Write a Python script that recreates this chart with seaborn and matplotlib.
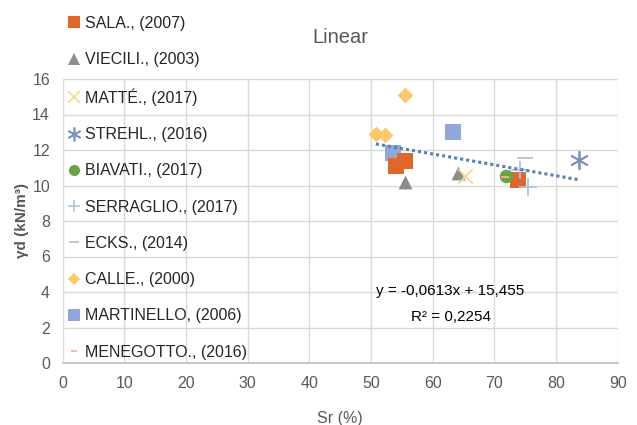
import numpy as np
import pandas as pd
import matplotlib
matplotlib.use("Agg")
import matplotlib.pyplot as plt
import seaborn as sns
from matplotlib.lines import Line2D
from matplotlib import font_manager

sns.set_theme(style="white")
names = {f.name for f in font_manager.fontManager.ttflist}
NARROW = "Liberation Sans Narrow" if "Liberation Sans Narrow" in names else "Liberation Sans"
plt.rcParams["font.family"] = [NARROW, "DejaVu Sans"]

# ---------------- data ----------------
series = ["SALA., (2007)", "VIECILI., (2003)", "MATTÉ., (2017)", "STREHL., (2016)",
          "BIAVATI., (2017)", "SERRAGLIO., (2017)", "ECKS., (2014)", "CALLE., (2000)",
          "MARTINELLO, (2006)", "MENEGOTTO., (2016)"]
sala_x = [54.1, 55.5, 73.8]
sala_y = [11.1, 11.4, 10.3]
viecili_x = [55.5, 64.1]
viecili_y = [10.2, 10.7]
matte_x = [65.2]
matte_y = [10.55]
strehl_x = [83.7]
strehl_y = [11.45]
biavati_x = [71.9]
biavati_y = [10.55]
serraglio_x = [74.2, 75.4]
serraglio_y = [10.85, 9.9]
ecks_x = [75.0]
ecks_y = [11.55]
calle_x = [50.8, 52.2, 55.5]
calle_y = [12.9, 12.85, 15.1]
martinello_x = [53.6, 63.3]
martinello_y = [11.85, 13.0]
menegotto_x = [71.8]
menegotto_y = [10.5]

trend_slope = -0.0613
trend_intercept = 15.455
trend_x = [50.8, 83.7]
eq_text = "y = -0,0613x + 15,455"
r2_text = "R² = 0,2254"

x_ticks = [0, 10, 20, 30, 40, 50, 60, 70, 80, 90]
y_ticks = [0, 2, 4, 6, 8, 10, 12, 14, 16]

xs = [sala_x, viecili_x, matte_x, strehl_x, biavati_x, serraglio_x, ecks_x, calle_x, martinello_x, menegotto_x]
ys = [sala_y, viecili_y, matte_y, strehl_y, biavati_y, serraglio_y, ecks_y, calle_y, martinello_y, menegotto_y]

styles = {
    "SALA., (2007)": dict(marker="s", color="#E0662A", s=120),
    "VIECILI., (2003)": dict(marker="^", color="#8C8C8C", s=100),
    "MATTÉ., (2017)": dict(marker="x", color="#F4DA8C", s=110),
    "STREHL., (2016)": dict(marker=(6, 2, 0), color="#7D93BE", s=160),
    "BIAVATI., (2017)": dict(marker="o", color="#6AA33F", s=95),
    "SERRAGLIO., (2017)": dict(marker="+", color="#A9C3E6", s=150),
    "ECKS., (2014)": dict(marker="_", color="#BFBFBF", s=120),
    "CALLE., (2000)": dict(marker="D", color="#FFC76C", s=65),
    "MARTINELLO, (2006)": dict(marker="s", color="#8FA7DA", s=120),
    "MENEGOTTO., (2016)": dict(marker="_", color="#F2B49A", s=40),
}

rows = []
for name, xv, yv in zip(series, xs, ys):
    for a, b in zip(xv, yv):
        rows.append({"Sr": a, "gd": b, "ref": name})
df = pd.DataFrame(rows)

fig = plt.figure(figsize=(6.37, 4.25), dpi=100)
ax = fig.add_axes([62.5 / 637, 1 - 363 / 425, (617.7 - 62.5) / 637, (363 - 79) / 425])

order_draw = ["CALLE., (2000)", "MARTINELLO, (2006)", "SALA., (2007)", "VIECILI., (2003)",
              "MATTÉ., (2017)", "STREHL., (2016)", "BIAVATI., (2017)", "SERRAGLIO., (2017)",
              "ECKS., (2014)", "MENEGOTTO., (2016)"]
for name in order_draw:
    st = styles[name]
    sub = df[df["ref"] == name]
    filled = st["marker"] in ("s", "^", "o", "D")
    kw = dict(data=sub, x="Sr", y="gd", ax=ax, marker=st["marker"], s=st["s"], color=st["color"], zorder=3)
    kw["linewidth"] = 0 if filled else 1.3
    sns.scatterplot(**kw)

# trendline
tx = np.array(trend_x)
sns.lineplot(x=tx, y=trend_slope * tx + trend_intercept, ax=ax, color="#4F81BD",
             linestyle=(0, (1, 1)), linewidth=2.2, zorder=4)

ax.set_xlim(0, 90)
ax.set_ylim(0, 16)
ax.set_xticks(x_ticks)
ax.set_yticks(y_ticks)
ax.grid(True, color="#D9D9D9", linewidth=1.0)
ax.set_axisbelow(True)
for sp in ["top", "right", "left"]:
    ax.spines[sp].set_visible(False)
ax.spines["bottom"].set_color("#BFBFBF")
ax.spines["bottom"].set_linewidth(1.2)
ax.tick_params(axis="both", labelsize=11.5, colors="#595959", length=0, pad=9)
ax.tick_params(axis="y", pad=9)

ax.set_xlabel("Sr (%)", fontsize=11.5, color="#595959", labelpad=15)
ax.set_ylabel("γd (kN/m³)", fontsize=11, color="#595959", fontweight="bold", labelpad=2)
ax.set_title("Linear", fontsize=14.5, color="#595959", pad=26)

ax.text(62.9, 4.06, eq_text, ha="center", va="center", fontsize=11, color="black")
ax.text(62.9, 2.6, r2_text, ha="center", va="center", fontsize=11, color="black")

handles = []
for name in series:
    st = styles[name]
    m = st["marker"]
    filled = m in ("s", "^", "o", "D")
    if isinstance(m, tuple):
        ms = 10
    else:
        ms = {"s": 8, "^": 8, "o": 8, "D": 6, "x": 9, "+": 9, "_": 7}[m]
    if name.startswith("MENEGOTTO"):
        ms = 5
    handles.append(Line2D([], [], linestyle="none", marker=m, markersize=ms,
                          color=st["color"], markeredgewidth=0 if filled else 1.2))
leg = ax.legend(handles, series, loc="upper left", bbox_to_anchor=(68 / 637, 1 - 16 / 425),
                bbox_transform=fig.transFigure, frameon=False, fontsize=11.5,
                labelspacing=1.33, handlelength=0.8, handletextpad=0.25, borderpad=0,
                borderaxespad=0)
leg.set_zorder(10)

fig.savefig("out.png", dpi=100)
